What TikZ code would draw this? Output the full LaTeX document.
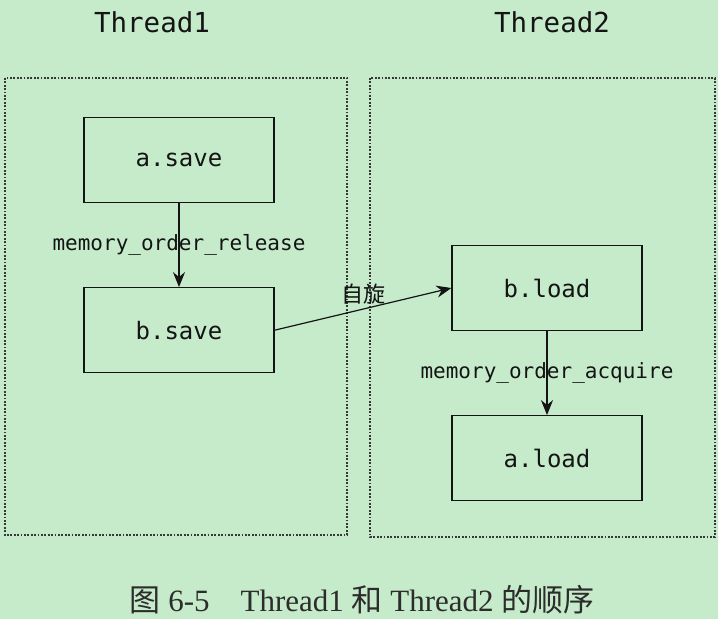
\documentclass[tikz,border=0pt]{standalone}
\usepackage{fontspec}
\setmainfont{Liberation Serif}
\setmonofont{DejaVu Sans Mono}
\newfontfamily\cjk{Noto Sans CJK SC}
\usepackage{xcolor}
\usetikzlibrary{arrows.meta,positioning}

\definecolor{pagegreen}{HTML}{C6EBCB}
\definecolor{ink}{HTML}{141414}

\begin{document}
\begin{tikzpicture}[
  x=1pt,y=-1pt,
  node distance=84pt,
  op/.style={rectangle,draw=ink,line width=1.2pt,minimum width=190pt,minimum height=85pt,font=\fontsize{24}{28}\selectfont\ttfamily,text=ink,inner sep=0pt},
  thread/.style={draw=ink!85,line width=1.5pt,dash pattern=on 1.8pt off 1.6pt},
  title/.style={font=\fontsize{27.5}{32}\selectfont\ttfamily,text=ink},
  lbl/.style={font=\fontsize{21}{24}\selectfont\ttfamily,text=ink,inner sep=1pt},
  every edge/.style={draw=ink,line width=1.2pt,-{Stealth[length=15pt,width=12pt]}}
]
\fill[pagegreen] (0,0) rectangle (718,619);
\useasboundingbox (0,0) rectangle (718,619);

% thread frames
\node[title] (t1) at (152,22) {Thread1};
\node[title] (t2) at (552,22) {Thread2};
\draw[thread] (5,78) rectangle (347,535);
\draw[thread] (370,78) rectangle (715,537);

% operations, left column
\node[op] (asave) at (179,160) {a.save};
\node[op,below=of asave] (bsave) {b.save};
% operations, right column
\node[op] (bload) at (547,288) {b.load};
\node[op,below=of bload] (aload) {a.load};

% orderings
\draw (asave) edge node[lbl]{memory\_order\_release} (bsave);
\draw (bload) edge node[lbl]{memory\_order\_acquire} (aload);
\draw (bsave.east) edge node[above=1pt,font=\fontsize{22}{24}\selectfont\cjk,text=ink]{自旋} (bload.west);

% caption
\node[font=\fontsize{31}{34}\selectfont,text=ink!90] (cap) at (362,600)
  {{\cjk 图} 6-5\quad Thread1 {\cjk 和} Thread2 {\cjk 的顺序}};
\end{tikzpicture}
\end{document}
